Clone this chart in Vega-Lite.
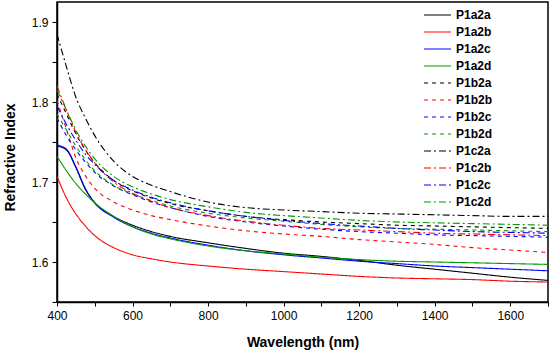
{
 "$schema": "https://vega.github.io/schema/vega-lite/v6.json",
 "width": 491,
 "height": 300,
 "autosize": {"type": "none"},
 "padding": {"left": 57, "top": 2, "right": 2, "bottom": 50},
 "background": "white",
 "config": {"view": {"stroke": "black", "strokeWidth": 1.5}, "font": "Liberation Sans"},
 "data": {"values": [
  {"s":"P1a2a","w":400,"n":1.745},{"s":"P1a2a","w":425,"n":1.740},{"s":"P1a2a","w":450,"n":1.718},{"s":"P1a2a","w":475,"n":1.691},{"s":"P1a2a","w":500,"n":1.674},{"s":"P1a2a","w":550,"n":1.657},{"s":"P1a2a","w":600,"n":1.646},{"s":"P1a2a","w":650,"n":1.638},{"s":"P1a2a","w":700,"n":1.632},{"s":"P1a2a","w":800,"n":1.624},{"s":"P1a2a","w":900,"n":1.617},{"s":"P1a2a","w":1000,"n":1.611},{"s":"P1a2a","w":1100,"n":1.607},{"s":"P1a2a","w":1200,"n":1.602},{"s":"P1a2a","w":1300,"n":1.596},{"s":"P1a2a","w":1400,"n":1.591},{"s":"P1a2a","w":1500,"n":1.586},{"s":"P1a2a","w":1600,"n":1.581},{"s":"P1a2a","w":1700,"n":1.577},
  {"s":"P1a2b","w":400,"n":1.707},{"s":"P1a2b","w":425,"n":1.680},{"s":"P1a2b","w":450,"n":1.660},{"s":"P1a2b","w":475,"n":1.645},{"s":"P1a2b","w":500,"n":1.633},{"s":"P1a2b","w":550,"n":1.618},{"s":"P1a2b","w":600,"n":1.609},{"s":"P1a2b","w":650,"n":1.604},{"s":"P1a2b","w":700,"n":1.600},{"s":"P1a2b","w":800,"n":1.595},{"s":"P1a2b","w":900,"n":1.591},{"s":"P1a2b","w":1000,"n":1.588},{"s":"P1a2b","w":1100,"n":1.585},{"s":"P1a2b","w":1200,"n":1.582},{"s":"P1a2b","w":1300,"n":1.580},{"s":"P1a2b","w":1400,"n":1.579},{"s":"P1a2b","w":1500,"n":1.578},{"s":"P1a2b","w":1600,"n":1.576},{"s":"P1a2b","w":1700,"n":1.575},
  {"s":"P1a2c","w":400,"n":1.746},{"s":"P1a2c","w":425,"n":1.741},{"s":"P1a2c","w":450,"n":1.719},{"s":"P1a2c","w":475,"n":1.692},{"s":"P1a2c","w":500,"n":1.674},{"s":"P1a2c","w":550,"n":1.656},{"s":"P1a2c","w":600,"n":1.644},{"s":"P1a2c","w":650,"n":1.636},{"s":"P1a2c","w":700,"n":1.630},{"s":"P1a2c","w":800,"n":1.621},{"s":"P1a2c","w":900,"n":1.614},{"s":"P1a2c","w":1000,"n":1.609},{"s":"P1a2c","w":1100,"n":1.605},{"s":"P1a2c","w":1200,"n":1.601},{"s":"P1a2c","w":1300,"n":1.598},{"s":"P1a2c","w":1400,"n":1.595},{"s":"P1a2c","w":1500,"n":1.593},{"s":"P1a2c","w":1600,"n":1.591},{"s":"P1a2c","w":1700,"n":1.589},
  {"s":"P1a2d","w":400,"n":1.732},{"s":"P1a2d","w":425,"n":1.714},{"s":"P1a2d","w":450,"n":1.698},{"s":"P1a2d","w":475,"n":1.685},{"s":"P1a2d","w":500,"n":1.674},{"s":"P1a2d","w":550,"n":1.657},{"s":"P1a2d","w":600,"n":1.644},{"s":"P1a2d","w":650,"n":1.635},{"s":"P1a2d","w":700,"n":1.629},{"s":"P1a2d","w":800,"n":1.620},{"s":"P1a2d","w":900,"n":1.614},{"s":"P1a2d","w":1000,"n":1.610},{"s":"P1a2d","w":1100,"n":1.606},{"s":"P1a2d","w":1200,"n":1.603},{"s":"P1a2d","w":1300,"n":1.601},{"s":"P1a2d","w":1400,"n":1.600},{"s":"P1a2d","w":1500,"n":1.599},{"s":"P1a2d","w":1600,"n":1.598},{"s":"P1a2d","w":1700,"n":1.597},
  {"s":"P1b2a","w":400,"n":1.810},{"s":"P1b2a","w":425,"n":1.785},{"s":"P1b2a","w":450,"n":1.760},{"s":"P1b2a","w":475,"n":1.740},{"s":"P1b2a","w":500,"n":1.724},{"s":"P1b2a","w":550,"n":1.702},{"s":"P1b2a","w":600,"n":1.689},{"s":"P1b2a","w":650,"n":1.680},{"s":"P1b2a","w":700,"n":1.673},{"s":"P1b2a","w":800,"n":1.664},{"s":"P1b2a","w":900,"n":1.657},{"s":"P1b2a","w":1000,"n":1.653},{"s":"P1b2a","w":1100,"n":1.650},{"s":"P1b2a","w":1200,"n":1.648},{"s":"P1b2a","w":1300,"n":1.646},{"s":"P1b2a","w":1400,"n":1.645},{"s":"P1b2a","w":1500,"n":1.644},{"s":"P1b2a","w":1600,"n":1.643},{"s":"P1b2a","w":1700,"n":1.642},
  {"s":"P1b2b","w":400,"n":1.802},{"s":"P1b2b","w":425,"n":1.766},{"s":"P1b2b","w":450,"n":1.730},{"s":"P1b2b","w":475,"n":1.708},{"s":"P1b2b","w":500,"n":1.692},{"s":"P1b2b","w":550,"n":1.675},{"s":"P1b2b","w":600,"n":1.665},{"s":"P1b2b","w":650,"n":1.658},{"s":"P1b2b","w":700,"n":1.653},{"s":"P1b2b","w":800,"n":1.645},{"s":"P1b2b","w":900,"n":1.639},{"s":"P1b2b","w":1000,"n":1.635},{"s":"P1b2b","w":1100,"n":1.632},{"s":"P1b2b","w":1200,"n":1.628},{"s":"P1b2b","w":1300,"n":1.625},{"s":"P1b2b","w":1400,"n":1.622},{"s":"P1b2b","w":1500,"n":1.618},{"s":"P1b2b","w":1600,"n":1.615},{"s":"P1b2b","w":1700,"n":1.612},
  {"s":"P1b2c","w":400,"n":1.780},{"s":"P1b2c","w":425,"n":1.758},{"s":"P1b2c","w":450,"n":1.740},{"s":"P1b2c","w":475,"n":1.725},{"s":"P1b2c","w":500,"n":1.712},{"s":"P1b2c","w":550,"n":1.695},{"s":"P1b2c","w":600,"n":1.684},{"s":"P1b2c","w":650,"n":1.675},{"s":"P1b2c","w":700,"n":1.668},{"s":"P1b2c","w":800,"n":1.657},{"s":"P1b2c","w":900,"n":1.650},{"s":"P1b2c","w":1000,"n":1.645},{"s":"P1b2c","w":1100,"n":1.641},{"s":"P1b2c","w":1200,"n":1.638},{"s":"P1b2c","w":1300,"n":1.636},{"s":"P1b2c","w":1400,"n":1.634},{"s":"P1b2c","w":1500,"n":1.633},{"s":"P1b2c","w":1600,"n":1.632},{"s":"P1b2c","w":1700,"n":1.631},
  {"s":"P1b2d","w":400,"n":1.785},{"s":"P1b2d","w":425,"n":1.765},{"s":"P1b2d","w":450,"n":1.745},{"s":"P1b2d","w":475,"n":1.728},{"s":"P1b2d","w":500,"n":1.714},{"s":"P1b2d","w":550,"n":1.696},{"s":"P1b2d","w":600,"n":1.685},{"s":"P1b2d","w":650,"n":1.677},{"s":"P1b2d","w":700,"n":1.670},{"s":"P1b2d","w":800,"n":1.661},{"s":"P1b2d","w":900,"n":1.655},{"s":"P1b2d","w":1000,"n":1.651},{"s":"P1b2d","w":1100,"n":1.647},{"s":"P1b2d","w":1200,"n":1.644},{"s":"P1b2d","w":1300,"n":1.642},{"s":"P1b2d","w":1400,"n":1.641},{"s":"P1b2d","w":1500,"n":1.640},{"s":"P1b2d","w":1600,"n":1.639},{"s":"P1b2d","w":1700,"n":1.638},
  {"s":"P1c2a","w":400,"n":1.885},{"s":"P1c2a","w":425,"n":1.844},{"s":"P1c2a","w":450,"n":1.806},{"s":"P1c2a","w":475,"n":1.780},{"s":"P1c2a","w":500,"n":1.758},{"s":"P1c2a","w":550,"n":1.726},{"s":"P1c2a","w":600,"n":1.707},{"s":"P1c2a","w":650,"n":1.696},{"s":"P1c2a","w":700,"n":1.688},{"s":"P1c2a","w":800,"n":1.675},{"s":"P1c2a","w":900,"n":1.668},{"s":"P1c2a","w":1000,"n":1.665},{"s":"P1c2a","w":1100,"n":1.663},{"s":"P1c2a","w":1200,"n":1.661},{"s":"P1c2a","w":1300,"n":1.660},{"s":"P1c2a","w":1400,"n":1.659},{"s":"P1c2a","w":1500,"n":1.658},{"s":"P1c2a","w":1600,"n":1.657},{"s":"P1c2a","w":1700,"n":1.657},
  {"s":"P1c2b","w":400,"n":1.820},{"s":"P1c2b","w":425,"n":1.790},{"s":"P1c2b","w":450,"n":1.762},{"s":"P1c2b","w":475,"n":1.741},{"s":"P1c2b","w":500,"n":1.724},{"s":"P1c2b","w":550,"n":1.700},{"s":"P1c2b","w":600,"n":1.686},{"s":"P1c2b","w":650,"n":1.676},{"s":"P1c2b","w":700,"n":1.668},{"s":"P1c2b","w":800,"n":1.658},{"s":"P1c2b","w":900,"n":1.651},{"s":"P1c2b","w":1000,"n":1.646},{"s":"P1c2b","w":1100,"n":1.642},{"s":"P1c2b","w":1200,"n":1.640},{"s":"P1c2b","w":1300,"n":1.638},{"s":"P1c2b","w":1400,"n":1.636},{"s":"P1c2b","w":1500,"n":1.635},{"s":"P1c2b","w":1600,"n":1.634},{"s":"P1c2b","w":1700,"n":1.633},
  {"s":"P1c2c","w":400,"n":1.795},{"s":"P1c2c","w":425,"n":1.772},{"s":"P1c2c","w":450,"n":1.752},{"s":"P1c2c","w":475,"n":1.735},{"s":"P1c2c","w":500,"n":1.722},{"s":"P1c2c","w":550,"n":1.702},{"s":"P1c2c","w":600,"n":1.690},{"s":"P1c2c","w":650,"n":1.681},{"s":"P1c2c","w":700,"n":1.674},{"s":"P1c2c","w":800,"n":1.664},{"s":"P1c2c","w":900,"n":1.657},{"s":"P1c2c","w":1000,"n":1.652},{"s":"P1c2c","w":1100,"n":1.648},{"s":"P1c2c","w":1200,"n":1.645},{"s":"P1c2c","w":1300,"n":1.642},{"s":"P1c2c","w":1400,"n":1.640},{"s":"P1c2c","w":1500,"n":1.638},{"s":"P1c2c","w":1600,"n":1.637},{"s":"P1c2c","w":1700,"n":1.636},
  {"s":"P1c2d","w":400,"n":1.815},{"s":"P1c2d","w":425,"n":1.790},{"s":"P1c2d","w":450,"n":1.765},{"s":"P1c2d","w":475,"n":1.745},{"s":"P1c2d","w":500,"n":1.729},{"s":"P1c2d","w":550,"n":1.707},{"s":"P1c2d","w":600,"n":1.694},{"s":"P1c2d","w":650,"n":1.685},{"s":"P1c2d","w":700,"n":1.678},{"s":"P1c2d","w":800,"n":1.669},{"s":"P1c2d","w":900,"n":1.662},{"s":"P1c2d","w":1000,"n":1.658},{"s":"P1c2d","w":1100,"n":1.655},{"s":"P1c2d","w":1200,"n":1.652},{"s":"P1c2d","w":1300,"n":1.650},{"s":"P1c2d","w":1400,"n":1.649},{"s":"P1c2d","w":1500,"n":1.648},{"s":"P1c2d","w":1600,"n":1.647},{"s":"P1c2d","w":1700,"n":1.646}
 ]},
 "mark": {"type": "line", "strokeWidth": 1.1, "interpolate": "monotone", "clip": true},
 "encoding": {
  "x": {"field": "w", "type": "quantitative",
   "scale": {"domain": [400, 1700], "nice": false, "zero": false},
   "axis": {"title": "Wavelength (nm)", "values": [400,500,600,700,800,900,1000,1100,1200,1300,1400,1500,1600,1700],
    "format": "d", "labelExpr": "(datum.value % 200 == 0 && datum.value < 1700) ? datum.label : ''",
    "labelOverlap": false, "labelFlush": false, "grid": false,
    "domainColor": "black", "domainWidth": 1.5, "tickColor": "black", "tickSize": 4, "tickWidth": 1,
    "labelFont": "Liberation Sans", "labelFontSize": 12, "labelColor": "black", "labelPadding": 4,
    "titleFont": "Liberation Sans", "titleFontSize": 14, "titleFontWeight": "bold", "titleColor": "black",
    "titleBaseline": "top", "titleY": 33}},
  "y": {"field": "n", "type": "quantitative",
   "scale": {"domain": [1.55, 1.925], "nice": false, "zero": false},
   "axis": {"title": "Refractive Index", "values": [1.55,1.6,1.65,1.7,1.75,1.8,1.85,1.9],
    "format": ".1f", "labelExpr": "abs(datum.value*10 - round(datum.value*10)) < 0.001 ? datum.label : ''",
    "labelOverlap": false, "labelFlush": false, "grid": false,
    "domainColor": "black", "domainWidth": 1.5, "tickColor": "black", "tickSize": 5, "tickWidth": 1,
    "labelFont": "Liberation Sans", "labelFontSize": 12, "labelColor": "black", "labelPadding": 4,
    "titleFont": "Liberation Sans", "titleFontSize": 14, "titleFontWeight": "bold", "titleColor": "black",
    "titleBaseline": "middle", "titleX": -47, "titleY": 155}},
  "color": {"field": "s", "type": "nominal",
   "scale": {"domain": ["P1a2a","P1a2b","P1a2c","P1a2d","P1b2a","P1b2b","P1b2c","P1b2d","P1c2a","P1c2b","P1c2c","P1c2d"],
    "range": ["#000000","#ff0000","#0000ff","#009900","#000000","#ff0000","#0000ff","#009900","#000000","#ff0000","#0000ff","#009900"]},
   "legend": {"title": null, "orient": "none", "legendX": 366, "legendY": 7, "symbolType": "stroke", "symbolSize": 729,
    "symbolStrokeWidth": 1.2, "labelFont": "Liberation Sans", "labelFontSize": 12, "labelFontWeight": "bold", "labelColor": "black",
    "rowPadding": 5, "clipHeight": 12, "labelOffset": 4, "padding": 0}},
  "strokeDash": {"field": "s", "type": "nominal",
   "scale": {"domain": ["P1a2a","P1a2b","P1a2c","P1a2d","P1b2a","P1b2b","P1b2c","P1b2d","P1c2a","P1c2b","P1c2c","P1c2d"],
    "range": [[1,0],[1,0],[1,0],[1,0],[4,4],[4,4],[4,4],[4,4],[7,3,2,3],[7,3,2,3],[7,3,2,3],[7,3,2,3]]},
   "legend": {"title": null, "orient": "none", "legendX": 366, "legendY": 7, "symbolType": "stroke", "symbolSize": 729,
    "symbolStrokeWidth": 1.2, "labelFont": "Liberation Sans", "labelFontSize": 12, "labelFontWeight": "bold", "labelColor": "black",
    "rowPadding": 5, "clipHeight": 12, "labelOffset": 4, "padding": 0}}
 }
}
